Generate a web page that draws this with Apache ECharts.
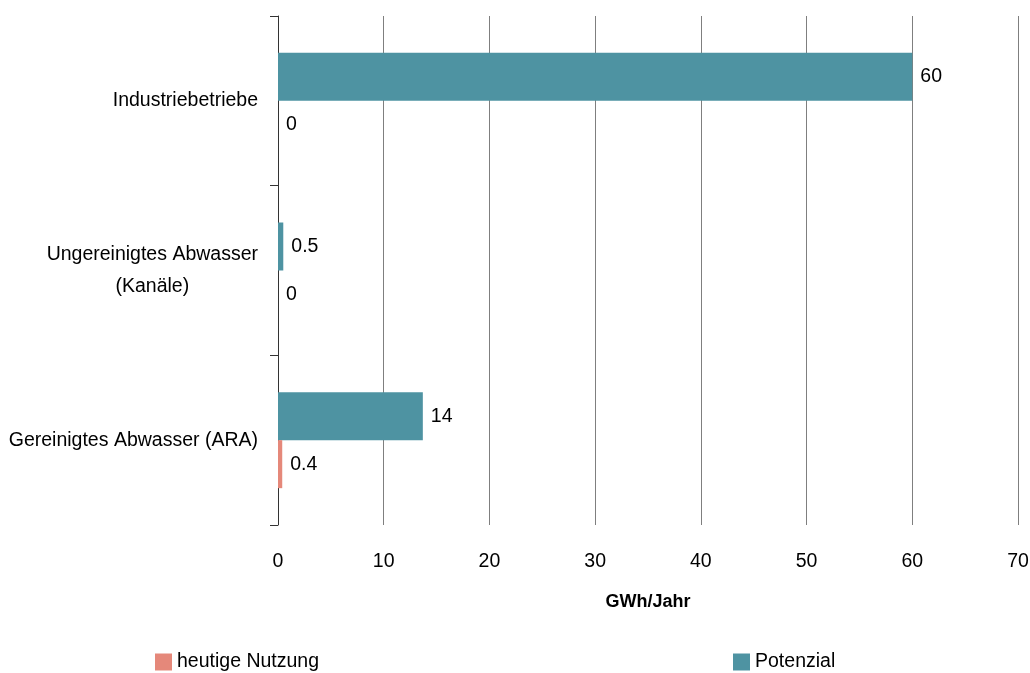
<!DOCTYPE html>
<html>
<head>
<meta charset="utf-8">
<script src="https://cdn.jsdelivr.net/npm/echarts@6/dist/echarts.min.js"></script>
<style>
html,body{margin:0;padding:0;background:#fff;}
#chart{width:1030px;height:673px;}
</style>
</head>
<body>
<div id="chart"></div>
<script>
var categories = ['Gereinigtes Abwasser (ARA)', 'Ungereinigtes Abwasser\n(Kanäle)', 'Industriebetriebe'];
var seriesNames = ['heutige Nutzung', 'Potenzial'];
var heutigeNutzung = [0.4, 0, 0];
var potenzial = [13.7, 0.5, 60];
var xTicks = [0, 10, 20, 30, 40, 50, 60, 70];
var axisTitle = 'GWh/Jahr';

var FONT = '"Liberation Sans", Arial, sans-serif';
var FS = 19.5;
var chart = echarts.init(document.getElementById('chart'));
function fmt(v){ return v >= 10 ? String(Math.round(v)) : String(v); }
chart.setOption({
  animation: false,
  textStyle: { fontFamily: FONT },
  grid: { left: 278, right: 12, top: 16, bottom: 148, containLabel: false, outerBoundsMode: 'none' },
  legend: {
    data: seriesNames,
    top: 647, left: 150,
    itemWidth: 17, itemHeight: 17, itemGap: 414,
    icon: 'rect',
    textStyle: { fontFamily: FONT, fontSize: FS, color: '#000' }
  },
  xAxis: {
    type: 'value', min: xTicks[0], max: xTicks[xTicks.length-1], interval: 10,
    axisLine: { show: false }, axisTick: { show: false },
    splitLine: { show: true, lineStyle: { color: '#7f7f7f', width: 1 } },
    axisLabel: { color: '#000', fontSize: FS, fontFamily: FONT, margin: 27 },
    name: axisTitle, nameLocation: 'middle', nameGap: 68,
    nameTextStyle: { color: '#000', fontSize: 18, fontWeight: 'bold', fontFamily: FONT }
  },
  yAxis: {
    type: 'category', data: categories,
    axisLine: { show: true, lineStyle: { color: '#333', width: 1 } },
    axisTick: { show: true, length: 8, lineStyle: { color: '#333' } },
    splitLine: { show: false },
    axisLabel: {
      margin: 20, color: '#000',
      formatter: function(v){ return v.split('\n').map(function(s){ return '{c|' + s + '}'; }).join('\n'); },
      rich: { c: { align: 'center', fontSize: FS, lineHeight: 32, fontFamily: FONT, color: '#000' } }
    }
  },
  series: [
    { name: seriesNames[1], type: 'bar', data: potenzial, barWidth: 48, barGap: '0%',
      itemStyle: { color: '#4E93A2' },
      label: { show: true, position: 'right', distance: 8, color: '#000', fontSize: FS, fontFamily: FONT,
        formatter: function(p){ return fmt(p.value); } } },
    { name: seriesNames[0], type: 'bar', data: heutigeNutzung, barWidth: 48, barGap: '0%',
      itemStyle: { color: '#E5887A' },
      label: { show: true, position: 'right', distance: 8, color: '#000', fontSize: FS, fontFamily: FONT,
        formatter: function(p){ return fmt(p.value); } } }
  ]
});
</script>
</body>
</html>
